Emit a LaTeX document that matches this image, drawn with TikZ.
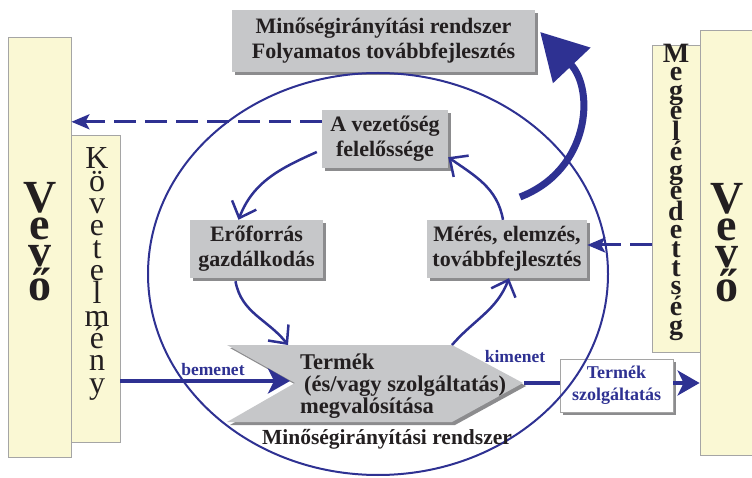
\documentclass[tikz,border=0pt]{standalone}
\usepackage{fontspec}
\setmainfont{Liberation Serif}
\usetikzlibrary{arrows.meta,shadows}
\definecolor{kek}{RGB}{46,49,146}
\definecolor{szurke}{RGB}{198,199,201}
\definecolor{arnyek}{RGB}{140,140,142}
\definecolor{sarga}{RGB}{250,248,212}
\definecolor{keret}{RGB}{165,165,165}
\definecolor{betu}{RGB}{35,31,32}
\tikzset{
  sbox/.style={fill=sarga, draw=keret, line width=0.8pt, inner sep=0pt},
  gbox/.style={fill=szurke, text=betu, inner sep=0pt, align=center,
    font=\bfseries\fontsize{22}{25}\selectfont,
    drop shadow={shadow xshift=3pt, shadow yshift=-3pt, fill=arnyek, opacity=1}},
  wbox/.style={fill=white, draw=keret, line width=0.8pt, text=kek, inner sep=0pt, align=center,
    font=\bfseries\fontsize{18}{22}\selectfont,
    drop shadow={shadow xshift=3pt, shadow yshift=-3pt, fill=arnyek, opacity=1}},
  vbig/.style={text=betu, inner sep=0pt, align=center, font=\bfseries\fontsize{46}{27}\selectfont},
  vkov/.style={text=betu, inner sep=0pt, align=center, font=\fontsize{32}{22.3}\selectfont},
  vmeg/.style={text=betu, inner sep=0pt, align=center, font=\bfseries\fontsize{28}{18.6}\selectfont},
  kor/.style={draw=kek, line width=2.5pt, -{Straight Barb[length=14pt,width=26pt]}},
  szagg/.style={draw=kek, line width=3pt, dash pattern=on 22pt off 9pt, -{Stealth[length=18pt,width=15pt,inset=4pt]}},
  nyil/.style={draw=kek, line width=3.5pt, -{Stealth[length=22pt,width=25pt,inset=6pt]}},
  cimke/.style={text=kek, inner sep=0pt, font=\bfseries\fontsize{17.5}{19}\selectfont}
}
\begin{document}
\begin{tikzpicture}[x=1pt, y=-1pt]
\useasboundingbox (0,0) rectangle (752,478);

\node[sbox, minimum width=63pt, minimum height=420pt] (v1) at (39.5,247) {};
\node[sbox, minimum width=49pt, minimum height=307pt] (k1) at (95.5,288.5) {};
\node[sbox, minimum width=48pt, minimum height=307pt] (m1) at (676,198.5) {};
\node[sbox, minimum width=66pt, minimum height=425pt] (v2) at (733,242.5) {};

\node[vbig] (v1t) at (40,242) {V\\e\\v\\ő};
\node[vkov] (k1t) at (97,274) {K\\ö\\v\\e\\t\\e\\l\\m\\é\\n\\y};
\node[vmeg] (m1t) at (676,192) {M\\e\\g\\e\\l\\é\\g\\e\\d\\e\\t\\t\\s\\é\\g};
\node[vbig] (v2t) at (727,243) {V\\e\\v\\ő};

\node[gbox, minimum width=303pt, minimum height=62pt] (top) at (383.5,41) {Minőségirányítási rendszer\\Folyamatos továbbfejlesztés};
\node[gbox, minimum width=126pt, minimum height=58pt] (vez) at (385,139) {A vezetőség\\felelőssége};
\node[gbox, minimum width=133pt, minimum height=58pt] (ero) at (256.5,249) {Erőforrás\\gazdálkodás};
\node[gbox, minimum width=160pt, minimum height=58pt] (mer) at (507,249) {Mérés, elemzés,\\továbbfejlesztés};
\node[wbox, minimum width=113pt, minimum height=53pt] (ts) at (616.5,385.5) {Termék\\szolgáltatás};

\fill[arnyek] (230,348) -- (455,348) -- (526,386) -- (455,425) -- (230,425) -- (298,386) -- cycle;
\fill[szurke] (227,345) -- (452,345) -- (523,383) -- (452,422) -- (227,422) -- (295,383) -- cycle;
\node[anchor=north west, align=left, inner sep=0pt, text=betu, font=\bfseries\fontsize{22.5}{22}\selectfont] (tm) at (300,354) {Termék\\\hspace{4pt}(és/vagy szolgáltatás)\\megvalósítása};

\coordinate (tn) at (290,381);
\coordinate (tt) at (524,383);
\coordinate (t1) at (288,345);
\coordinate (t2) at (452,345);
\coordinate (kz) at (520,197);

\draw[kek, line width=2pt] (378,274) ellipse [x radius=230pt, y radius=201pt];
\node[text=betu, inner sep=0pt, font=\bfseries\fontsize{21.5}{24}\selectfont] (mr) at (387,439) {Minőségirányítási rendszer};

\draw[kor] ([xshift=-5pt,yshift=-13pt]vez.west) to[out=204, in=69] ([xshift=-18pt]ero.north);
\draw[kor] ([xshift=-21pt,yshift=-3pt]ero.south) to[out=-80, in=128] (t1);
\draw[kor] (t2) to[out=49, in=249] ([xshift=2pt]mer.south);
\draw[kor] ([xshift=-4pt]mer.north) to[out=100, in=-35] ([yshift=11pt]vez.south east);

\draw[szagg] ([yshift=-12pt]vez.north west) -- ([yshift=-12pt]v1.east |- vez.north west);
\draw[szagg] ([yshift=4pt]m1.west |- mer.east) -- ([yshift=4pt]mer.east);

\draw[nyil] (k1.east |- tn) -- (tn);
\draw[kek, line width=3.5pt] (tt) -- (ts.west |- tt);
\draw[nyil] (ts.east |- tt) -- (v2.west |- tt);
\node[cimke] (be) at (213,370) {bemenet};
\node[cimke] (ki) at (515,357) {kimenet};

\draw[kek, line width=7pt, -{Triangle[length=46pt,width=50pt]}] (kz) .. controls (590,170) and (595,90) .. ([xshift=5pt,yshift=9pt]top.east);
\end{tikzpicture}
\end{document}
